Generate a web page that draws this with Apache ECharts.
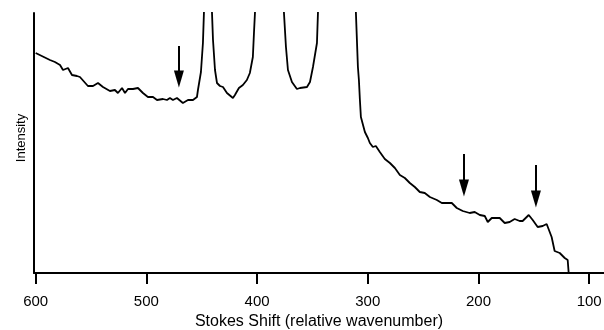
<!DOCTYPE html>
<html>
<head>
<meta charset="utf-8">
<script src="https://cdn.jsdelivr.net/npm/echarts@6/dist/echarts.min.js"></script>
<style>
  html, body { margin: 0; padding: 0; background: #fff; }
  #chart { width: 604px; height: 330px; }
</style>
</head>
<body>
<div id="chart"></div>
<script>
// Raman shift (cm^-1) and intensity (arbitrary units)
const shift = [
  600, 587.1, 582.6, 578.0, 575.3, 570.8, 567.2, 562.7, 560.0, 552.8,
  548.2, 543.7, 539.2, 532.9, 528.4, 525.7, 522.0, 519.3, 516.6, 512.1,
  507.6, 503.1, 498.6, 494.0, 490.4, 485.0, 481.4, 478.7, 476.0, 472.4,
  467.0, 462.4, 457.9, 454.3, 453.4, 450.7, 448.9, 448.0, 444.5, 440.7,
  439.8, 438.0, 436.2, 433.5, 430.8, 427.2, 421.8, 420.0, 416.4, 412.8,
  409.2, 406.5, 403.8, 402.8, 401.9, 388.2, 375.7, 373.9, 372.1, 368.5,
  364.0, 361.2, 354.9, 352.2, 349.5, 345.9, 345.0, 327.8, 310.7, 308.9,
  308.0, 307.1, 306.2, 302.6, 299.9, 298.1, 295.4, 292.7, 289.1, 284.6,
  280.0, 275.5, 271.0, 266.5, 262.0, 257.5, 253.0, 248.5, 243.9, 237.6,
  233.1, 228.6, 224.1, 219.6, 214.2, 207.9, 203.4, 198.8, 194.3, 191.6,
  188.0, 183.5, 180.8, 176.3, 171.8, 167.3, 162.8, 160.1, 154.6, 151.0,
  146.5, 142.0, 138.4, 136.6, 133.9, 131.2, 126.6, 122.1, 119.4, 118.5
];
const intensity = [
  220, 213, 211, 208, 203, 205, 198, 197, 196, 187,
  187, 190, 186, 182, 183, 180, 185, 180, 184, 184,
  185, 180, 176, 176, 173, 174, 173, 175, 173, 175,
  170, 173, 173, 176, 183, 201, 230, 260, 420, 260,
  233, 203, 190, 187, 186, 180, 175, 178, 185, 188,
  193, 200, 216, 240, 260, 700, 260, 226, 203, 191,
  184, 185, 186, 191, 206, 230, 260, 900, 260, 206,
  193, 173, 156, 141, 135, 130, 126, 127, 121, 114,
  110, 105, 98, 95, 90, 86, 81, 80, 76, 73,
  70, 70, 70, 65, 62, 60, 61, 58, 57, 51,
  55, 55, 55, 50, 51, 54, 52, 52, 58, 53,
  46, 47, 49, 48, 36, 22, 20, 15, 13, 0
];
// Marked bands: shift, arrow tail intensity, arrowhead centre intensity
const arrowShift = [470.6, 213.1, 148.1];
const arrowTail = [227, 119, 108];
const arrowHead = [194, 85, 74];
const xTicks = [600, 500, 400, 300, 200, 100];

const points = shift.map((s, i) => [s, intensity[i]]);
const arrows = arrowShift.map((s, i) => [
  { coord: [s, arrowTail[i]] },
  { coord: [s, arrowHead[i]] }
]);

const chart = echarts.init(document.getElementById('chart'));
chart.setOption({
  animation: false,
  backgroundColor: '#fff',
  grid: { left: 34, right: 0, top: 13, bottom: 57, outerBoundsMode: 'none' },
  xAxis: {
    type: 'value',
    inverse: true,
    min: 86.6,
    max: 601.5,
    name: 'Stokes Shift (relative wavenumber)',
    nameLocation: 'middle',
    nameGap: 39,
    nameTextStyle: { fontFamily: 'Liberation Sans', fontSize: 16, color: '#000' },
    axisLine: { lineStyle: { color: '#000', width: 2 } },
    axisTick: { customValues: xTicks, length: 11, lineStyle: { color: '#000', width: 2 } },
    axisLabel: { customValues: xTicks, margin: 21, fontFamily: 'Liberation Sans', fontSize: 15, color: '#000' },
    splitLine: { show: false }
  },
  yAxis: {
    type: 'value',
    min: 0,
    max: 260,
    name: 'Intensity',
    nameLocation: 'middle',
    nameGap: 6,
    nameTextStyle: { fontFamily: 'Liberation Sans', fontSize: 13, color: '#000', padding: [0, 0, 0, 10] },
    axisLine: { show: true, lineStyle: { color: '#000', width: 2 } },
    axisTick: { show: false },
    axisLabel: { show: false },
    splitLine: { show: false }
  },
  series: [{
    type: 'line',
    data: points,
    showSymbol: false,
    clip: true,
    lineStyle: { color: '#000', width: 1.8 },
    markLine: {
      silent: true,
      symbol: ['none', 'triangle'],
      symbolSize: [10, 17],
      label: { show: false },
      lineStyle: { color: '#000', width: 2, type: 'solid' },
      data: arrows
    }
  }]
});
</script>
</body>
</html>
